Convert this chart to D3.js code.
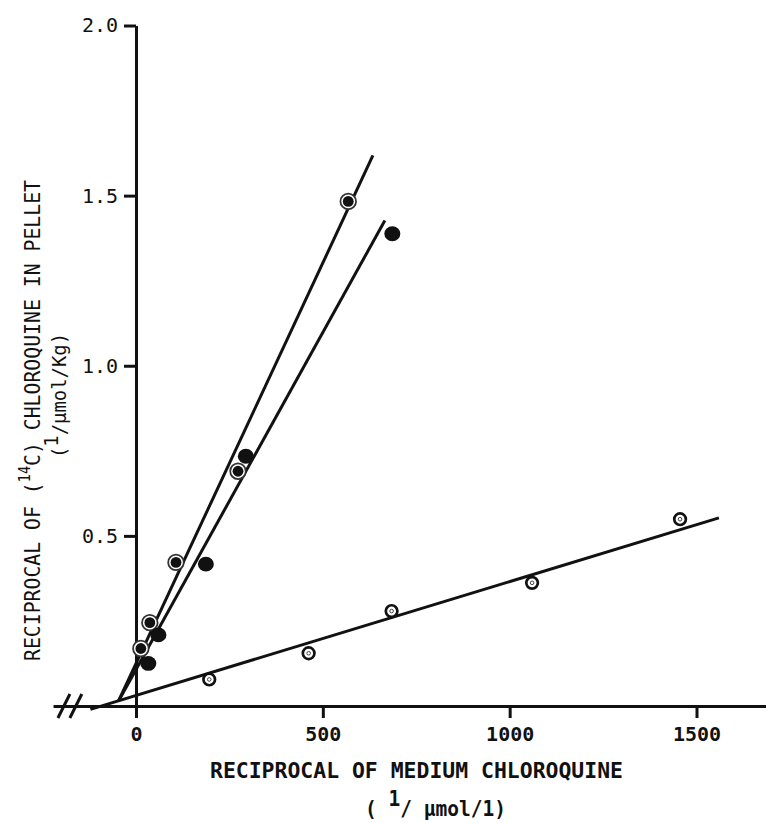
<!DOCTYPE html>
<html>
<head>
<meta charset="utf-8">
<script src="https://cdn.jsdelivr.net/npm/d3@7"></script>
<style>
  html,body{margin:0;padding:0;background:#fff;}
  svg{display:block;}
  text{font-family:"DejaVu Sans Mono","Liberation Mono",monospace;fill:#111;}
</style>
</head>
<body>
<svg id="chart" width="766" height="823"></svg>
<script>
// Double-reciprocal plot: pellet chloroquine vs medium chloroquine, three series

// ── DATA ────────────────────────────────────────────────────────────────
// ringed markers (open ring, filled centre)
var ringX=[13,37,107,273,568];
var ringY=[0.169,0.245,0.422,0.690,1.483];
// solid markers
var solidX=[33,60,187,294,686];
var solidY=[0.125,0.209,0.417,0.734,1.388];
// small dotted circles
var dotX=[196,462,684,1060,1456];
var dotY=[0.078,0.155,0.279,0.362,0.549];

// fitted lines, start/end in data units
var fitRingX=[-47,634],  fitRingY=[0.014,1.618];
var fitSolidX=[-47,666], fitSolidY=[0.014,1.427];
var fitDotX=[-122,1560], fitDotY=[-0.010,0.553];

var xTicks=[0,500,1000,1500];
var yTicks=[0.5,1.0,1.5,2.0];
var xAxisExtent=[-222,1690];   // x axis drawn past the break on the left
var breakAt=[-193,-161];       // the two "//" strokes

// ── SCALES ──────────────────────────────────────────────────────────────
var x=d3.scaleLinear().domain([0,1500]).range([136,696.5]);
var y=d3.scaleLinear().domain([0,2]).range([706,25.5]);

var svg=d3.select("#chart");
var INK="#111";

// ── AXES ────────────────────────────────────────────────────────────────
var xAxisScale=x.copy().domain(xAxisExtent).range(xAxisExtent.map(x));
var gx=svg.append("g")
  .attr("transform","translate(0,"+y(0)+")")
  .call(d3.axisBottom(xAxisScale).tickValues(xTicks).tickFormat(d3.format("d"))
    .tickSize(12).tickSizeOuter(0).tickPadding(9));

var gy=svg.append("g")
  .attr("transform","translate("+x(0)+",0)")
  .call(d3.axisLeft(y).tickValues(yTicks).tickFormat(d3.format(".1f"))
    .tickSize(12).tickSizeOuter(0).tickPadding(6));

[gx,gy].forEach(function(g){
  g.select(".domain").attr("stroke",INK).attr("stroke-width",3);
  g.selectAll(".tick line").attr("stroke",INK).attr("stroke-width",3);
  g.selectAll(".tick text").attr("fill",INK)
    .style("font-family","'DejaVu Sans Mono',monospace").style("font-size","20px");
});
gx.selectAll(".tick text").style("font-weight","bold");

// break marks on the x axis
svg.append("g").selectAll("line").data(breakAt).enter().append("line")
  .attr("x1",function(d){return x(d)-6;}).attr("y1",y(0)+12)
  .attr("x2",function(d){return x(d)+6;}).attr("y2",y(0)-12)
  .attr("stroke",INK).attr("stroke-width",3);

// ── FITTED LINES ────────────────────────────────────────────────────────
var fits=[[fitRingX,fitRingY],[fitSolidX,fitSolidY],[fitDotX,fitDotY]];
svg.append("g").selectAll("line").data(fits).enter().append("line")
  .attr("x1",function(d){return x(d[0][0]);}).attr("y1",function(d){return y(d[1][0]);})
  .attr("x2",function(d){return x(d[0][1]);}).attr("y2",function(d){return y(d[1][1]);})
  .attr("stroke",INK).attr("stroke-width",3);

// ── MARKERS ─────────────────────────────────────────────────────────────
function pts(xs,ys){return xs.map(function(v,i){return [v,ys[i]];});}

var ring=svg.append("g").selectAll("g").data(pts(ringX,ringY)).enter().append("g")
  .attr("transform",function(d){return "translate("+x(d[0])+","+y(d[1])+")";});
ring.append("circle").attr("r",7.8).attr("fill","#fff").attr("stroke","#333").attr("stroke-width",1.8);
ring.append("circle").attr("r",5.4).attr("fill",INK);

svg.append("g").selectAll("ellipse").data(pts(solidX,solidY)).enter().append("ellipse")
  .attr("cx",function(d){return x(d[0]);}).attr("cy",function(d){return y(d[1]);})
  .attr("rx",8).attr("ry",7.4).attr("fill",INK);

var dot=svg.append("g").selectAll("g").data(pts(dotX,dotY)).enter().append("g")
  .attr("transform",function(d){return "translate("+x(d[0])+","+y(d[1])+")";});
dot.append("circle").attr("r",5.8).attr("fill","#fff").attr("stroke",INK).attr("stroke-width",2.7);
dot.append("circle").attr("r",1.8).attr("fill","#fff").attr("stroke","#444").attr("stroke-width",1);

// ── TITLES ──────────────────────────────────────────────────────────────
svg.append("text").attr("x",416.5).attr("y",778)
  .attr("text-anchor","middle").style("font-size","20.5px").style("font-weight","bold")
  .attr("textLength",413).attr("lengthAdjust","spacingAndGlyphs")
  .text("RECIPROCAL OF MEDIUM CHLOROQUINE");

var xt2=svg.append("text").attr("x",365).attr("y",816)
  .style("font-size","20.5px").style("font-weight","bold")
  .attr("textLength",141).attr("lengthAdjust","spacingAndGlyphs");
xt2.append("tspan").text("( ");
xt2.append("tspan").attr("dy",-10).text("1");
xt2.append("tspan").attr("dy",10).text("/ \u03bcmol/1)");

var yt1=svg.append("text")
  .attr("transform","translate(40,420.5) rotate(-90)")
  .attr("text-anchor","middle").style("font-size","22px")
  .attr("textLength",481).attr("lengthAdjust","spacingAndGlyphs");
yt1.append("tspan").text("RECIPROCAL OF (");
yt1.append("tspan").attr("dy",-10).style("font-size","15px").text("14");
yt1.append("tspan").attr("dy",10).text("C) CHLOROQUINE IN PELLET");

var yt2=svg.append("text")
  .attr("transform","translate(66,395.5) rotate(-90)")
  .attr("text-anchor","middle").style("font-size","20px")
  .attr("textLength",125).attr("lengthAdjust","spacingAndGlyphs");
yt2.append("tspan").text("(");
yt2.append("tspan").attr("dy",-8).text("1");
yt2.append("tspan").attr("dy",8).text("/\u03bcmol/Kg)");
</script>
</body>
</html>
